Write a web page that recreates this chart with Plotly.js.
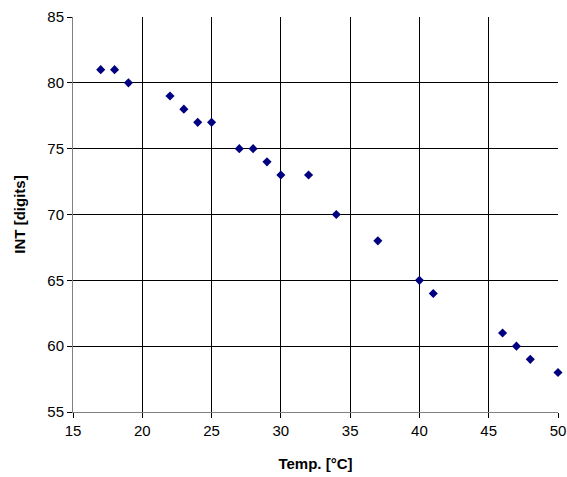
<!DOCTYPE html>
<html><head><meta charset="utf-8">
<script src="https://cdn.plot.ly/plotly-3.0.1.min.js"></script>
<style>html,body{margin:0;padding:0;background:#fff}</style>
</head><body>
<div id="chart" style="width:567px;height:477px"></div>
<script>
var tempC = [17, 18, 19, 22, 23, 24, 25, 27, 28, 29, 30, 32, 34, 37, 40, 41, 46, 47, 48, 50];
var intDigits = [81, 81, 80, 79, 78, 77, 77, 75, 75, 74, 73, 73, 70, 68, 65, 64, 61, 60, 59, 58];
var xTitle = 'Temp. [°C]';
var yTitle = 'INT [digits]';

var fam = 'Liberation Sans, Arial, sans-serif';
var tickFnt = {family: fam, size: 15, color: '#000'};
var titleFnt = {family: fam, size: 15, weight: 'bold', color: '#000'};
Plotly.newPlot('chart', [{
  x: tempC, y: intDigits, type: 'scatter', mode: 'markers',
  marker: {symbol: 'diamond', size: 7, color: '#000080'},
  cliponaxis: false
}], {
  width: 567, height: 477,
  margin: {l: 73, r: 9, t: 17, b: 65},
  paper_bgcolor: '#fff', plot_bgcolor: '#fff',
  showlegend: false,
  font: tickFnt,
  xaxis: {
    range: [15, 50], dtick: 5, tick0: 15,
    showgrid: true, gridcolor: '#000', gridwidth: 1,
    showline: true, linecolor: '#808080', linewidth: 1,
    ticks: 'outside', ticklen: 5, tickcolor: '#000',
    zeroline: false, tickfont: tickFnt,
    title: {text: xTitle, font: titleFnt, standoff: 20}
  },
  yaxis: {
    range: [55, 85], dtick: 5, tick0: 55,
    showgrid: true, gridcolor: '#000', gridwidth: 1,
    showline: true, linecolor: '#808080', linewidth: 1,
    ticks: 'outside', ticklen: 5, tickcolor: '#000',
    zeroline: false, tickfont: tickFnt,
    title: {text: yTitle, font: titleFnt, standoff: 18}
  }
}, {displayModeBar: false, staticPlot: true});
</script>
</body></html>
